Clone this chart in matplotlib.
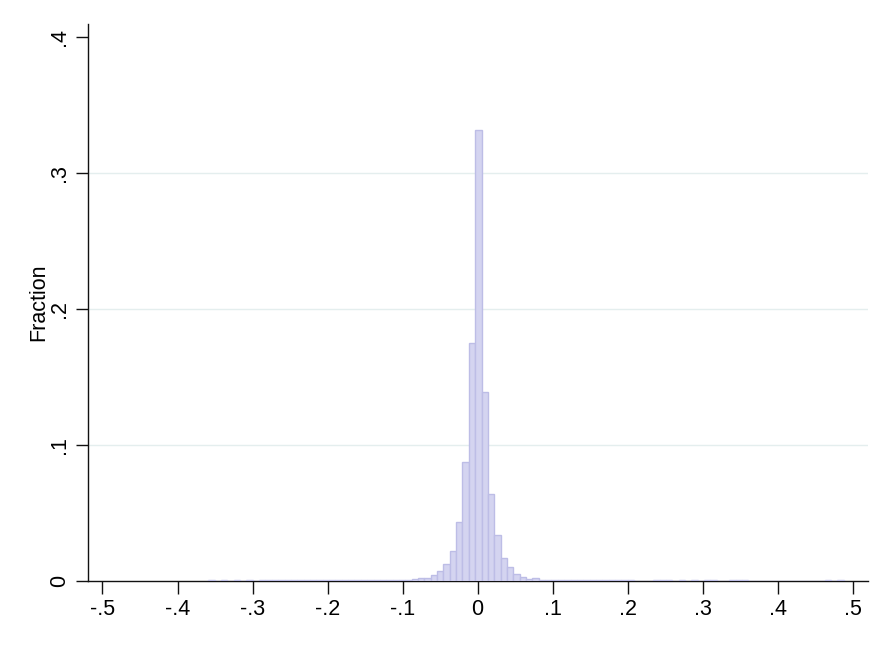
import matplotlib.pyplot as plt
import numpy as np

# histogram: 100 bins, first bin starts at -0.359, width 0.00847
bin_start = -0.359
bin_width = 0.00847
fraction = [
    0.0006, 0, 0.0006, 0, 0.0006, 0, 0.0006, 0, 0.0006, 0.0006,
    0.0006, 0.0006, 0.0006, 0.0006, 0.0006, 0.0006, 0.0006, 0.0006, 0.0006, 0.0006,
    0.0006, 0.0006, 0.0006, 0.0006, 0.0006, 0.0006, 0.0006, 0.0006, 0.0007, 0.0008,
    0.0009, 0.0011, 0.0013, 0.0025, 0.0025, 0.0045, 0.0072, 0.0128, 0.0217, 0.0437,
    0.0878, 0.1748, 0.3318, 0.1393, 0.0642, 0.0338, 0.0166, 0.0106, 0.0052, 0.0031,
    0.0018, 0.0019, 0.0009, 0.0007, 0.0007, 0.0007, 0.0007, 0.0007, 0.0007, 0.0007,
    0.0007, 0.0007, 0.0007, 0.0007, 0.0007, 0.0007, 0.0007, 0, 0, 0,
    0.0006, 0.0006, 0.0006, 0, 0.0006, 0, 0.0006, 0, 0.0006, 0.0006,
    0, 0, 0.0006, 0.0006, 0.0006, 0, 0, 0, 0, 0,
    0, 0, 0, 0, 0, 0, 0, 0.0006, 0, 0.0006,
]
xticks = [-0.5, -0.4, -0.3, -0.2, -0.1, 0, 0.1, 0.2, 0.3, 0.4, 0.5]
xlabels = ["-.5", "-.4", "-.3", "-.2", "-.1", "0", ".1", ".2", ".3", ".4", ".5"]
yticks = [0, 0.1, 0.2, 0.3, 0.4]
ylabels = ["0", ".1", ".2", ".3", ".4"]

plt.rcParams["font.family"] = ["Liberation Sans", "DejaVu Sans"]

fig = plt.figure(figsize=(8.91, 6.48), dpi=100)
ax = fig.add_axes([0.099, 0.1034, 0.875, 0.8596])

for g in [0.1, 0.2, 0.3]:
    ax.axhline(g, color="#e4eeee", lw=1.0, zorder=0)

lefts = bin_start + bin_width * np.arange(len(fraction))
ax.bar(lefts, fraction, width=bin_width, align="edge",
       color="#d4d4f0", edgecolor="#bdbde6", linewidth=1.0, zorder=3)

ax.set_xlim(-0.519, 0.52)
ax.set_ylim(0, 0.4096)
ax.set_xticks(xticks)
ax.set_xticklabels(xlabels, fontsize=15.5)
ax.set_yticks(yticks)
ax.set_yticklabels(ylabels, fontsize=15.5, rotation=90, va="center")
ax.tick_params(direction="out", length=9, width=1, color="#111111", pad=4)
ax.set_ylabel("Fraction", fontsize=15.5, labelpad=0)

for s in ["top", "right"]:
    ax.spines[s].set_visible(False)
for s in ["left", "bottom"]:
    ax.spines[s].set_linewidth(1.0)
    ax.spines[s].set_color("#111111")

fig.savefig("out.png", dpi=100)
